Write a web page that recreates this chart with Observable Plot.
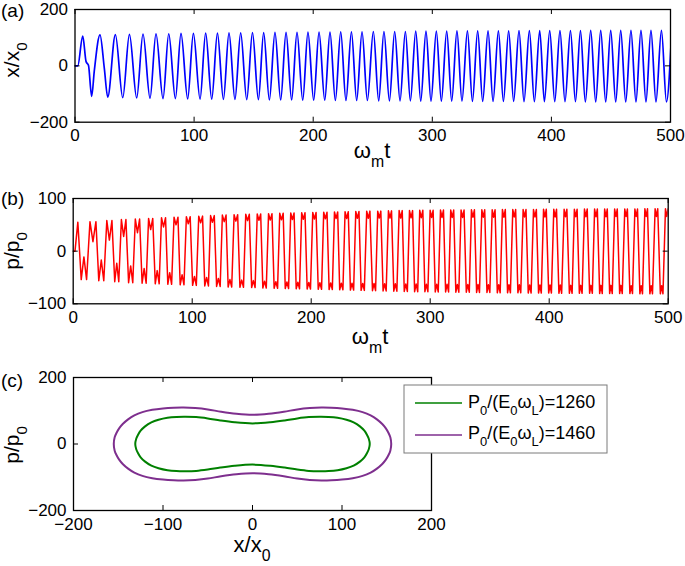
<!DOCTYPE html>
<html><head><meta charset="utf-8">
<script src="https://cdn.jsdelivr.net/npm/d3@7"></script>
<script src="https://cdn.jsdelivr.net/npm/@observablehq/plot@0.6"></script>
<style>
body{margin:0;background:#fff;}
#wrap{position:relative;width:685px;height:566px;background:#fff;}
#wrap svg{position:absolute;left:0;overflow:visible;}
</style></head><body><div id="wrap"></div>
<script>
// ---------- tick values & labels ----------
const panelLabels = ["(a)", "(b)", "(c)"];
const timeTicks = [0, 100, 200, 300, 400, 500];
const xTicksA = [-200, 0, 200];
const pTicksB = [-100, 0, 100];
const phaseXTicks = [-200, -100, 0, 100, 200];
const phaseYTicks = [-200, 0, 200];
const legendLabels = ["1260", "1460"];

// ---------- panel (a): x/x0 vs ωm t (extrema) ----------
const aPeakT = [6.5,21.0,33.9,45.7,57.1,68.0,78.7,89.0,99.4,109.7,119.6,129.3,139.1,149.0,158.4,167.9,177.2,186.4,195.6,204.9,214.1,223.1,232.1,241.0,250.5,259.4,268.4,277.4,286.1,294.7,303.4,312.1,320.7,329.5,338.1,346.8,355.5,364.1,372.8,381.5,390.2,398.6,407.2,416.0,424.4,433.0,441.4,449.8,458.2,466.8,475.2,483.6,492.4];
const aPeakX = [106,110,111,112,113,114,114,115,115,116,116,117,117,118,118,119,119,119,120,120,120,121,121,121,122,122,122,122,123,123,123,123,124,124,124,124,124,124,125,125,125,125,125,125,125,126,126,126,126,126,126,126,126];
const aTroughT = [14.0,27.5,40.1,51.8,63.0,73.9,84.3,94.6,105.0,114.8,124.6,134.3,144.2,154.0,163.2,172.7,181.9,191.2,200.4,209.7,218.6,227.5,236.5,245.5,255.0,264.0,272.9,281.6,290.3,298.9,307.6,316.3,324.9,333.7,342.3,351.0,359.7,368.3,377.0,385.7,394.1,402.8,411.4,420.2,428.5,437.2,445.6,454.0,462.4,471.0,479.4,487.8,496.6];
const aTroughX = [-108,-111,-113,-114,-115,-116,-116,-117,-118,-118,-119,-119,-120,-120,-121,-121,-121,-122,-122,-122,-123,-123,-123,-123,-124,-124,-124,-124,-125,-125,-125,-125,-125,-126,-126,-126,-126,-126,-127,-127,-127,-127,-127,-127,-128,-128,-128,-128,-128,-128,-128,-128,-128];
const aExtraT = [0, 2.3, 9.3, 11.3, 16.2, 24.6, 501.0];
const aExtraX = [0, 0, 15, 2, -18, -8, 126];

// ---------- panel (b): p/p0 vs ωm t (M / W shaped extrema) ----------
const bStartT = [0, 1.5, 3.9];
const bStartP = [0, 0, 55];
const bBottomCenter = [9.0,23.6,36.6,48.3,59.6,70.6,81.1,91.5,101.9,112.1,122.0,131.7,141.6,151.4,160.8,170.3,179.6,188.8,198.0,207.3,216.4,225.3,234.3,243.3,252.8,261.7,270.7,279.5,288.2,296.8,305.5,314.2,322.8,331.6,340.2,348.9,357.6,366.2,374.9,383.6,392.2,400.7,409.3,418.1,426.5,435.1,443.5,451.9,460.3,468.9,477.3,485.7,494.5];
const bBottomPeak = [-54,-56,-58,-60,-61,-62,-63,-64,-65,-66,-67,-68,-68.5,-69,-70,-70.5,-71,-71.5,-72,-72.5,-73,-73.5,-74,-74.5,-75,-75.5,-76,-76.5,-77,-77,-77.5,-77.5,-78,-78,-78.5,-78.5,-79,-79,-79,-79.5,-79.5,-79.5,-80,-80,-80,-80,-80.5,-80.5,-80.5,-80.5,-81,-81,-81];
const bBottomDip = [-11,-17,-23,-28,-33,-37,-41,-45,-48,-50,-52,-54,-55,-56,-57,-58,-58.5,-59,-59.5,-60,-60.5,-61,-61,-61.5,-61.5,-62,-62,-62.5,-62.5,-63,-63,-63,-63.5,-63.5,-63.5,-64,-64,-64,-64,-64.5,-64.5,-64.5,-64.5,-65,-65,-65,-65,-65,-65,-65.5,-65.5,-65.5,-65.5];
const bBottomHalfWidth = [2.25,2.1,1.7,1.75,1.7,1.65,1.6,1.6,1.55,1.55,1.5,1.5,1.5,1.45,1.45,1.45,1.4,1.4,1.4,1.4,1.35,1.35,1.35,1.35,1.3,1.3,1.3,1.3,1.3,1.25,1.25,1.25,1.25,1.25,1.2,1.2,1.2,1.2,1.2,1.2,1.15,1.15,1.15,1.15,1.15,1.15,1.1,1.1,1.1,1.1,1.1,1.1,1.1];
const bTopCenter = [16.6,30.4,42.4,54.0,65.1,75.9,86.4,96.7,107.1,117.0,126.9,136.7,146.5,156.1,165.6,175.0,184.2,193.4,202.7,211.9,220.9,229.8,238.8,248.0,257.2,266.2,275.2,283.9,292.5,301.2,309.9,318.5,327.2,335.9,344.6,353.3,361.9,370.6,379.3,388.0,396.4,405.0,413.7,422.3,430.8,439.3,447.7,456.1,464.6,473.1,481.5,490.1,498.8];
const bTopPeak = [56,58,60,61,62,63.5,64.5,65.5,66.5,67.5,68.5,69,70,70.5,71,72,72.5,73,73.5,74,74.5,75,75.5,76,76,76.5,77,77,77.5,77.5,78,78,78,78.5,78.5,78.5,79,79,79,79,79.5,79.5,79.5,79.5,80,80,80,80,80,80,80.5,80.5,80.5];
const bTopDip = [18,21,28,35,41,46,50,52,54,55,56,57,58,58.5,59,59.5,60,60.5,61,61.5,62,62,62.5,62.5,63,63,63,63.5,63.5,64,64,64,64,64.5,64.5,64.5,64.5,65,65,65,65,65,65.5,65.5,65.5,65.5,65.5,66,66,66,66,66,66];
const bTopHalfWidth = [2.5,2.15,1.9,1.8,1.75,1.7,1.65,1.6,1.6,1.55,1.55,1.5,1.5,1.45,1.45,1.45,1.4,1.4,1.4,1.4,1.35,1.35,1.35,1.35,1.3,1.3,1.3,1.3,1.3,1.25,1.25,1.25,1.25,1.25,1.2,1.2,1.2,1.2,1.2,1.2,1.15,1.15,1.15,1.15,1.15,1.15,1.1,1.1,1.1,1.1,1.1,1.1,1.1];

// ---------- panel (c): phase portraits (upper halves, symmetric) ----------
const greenX = [-131,-130,-128,-125,-120,-113,-105,-95,-85,-75,-63,-50,-36,-20,0,20,36,50,63,75,85,95,105,113,120,125,128,130,131];
const greenP = [0,15,27,40,53,65,73,79,81.5,82,81,77,71,65.5,62,65.5,71,77,81,82,81.5,79,73,65,53,40,27,15,0];
const purpleX = [-155,-154,-152,-149,-145,-139,-132,-123,-112,-100,-88,-77,-64,-50,-35,-18,0,18,35,50,64,77,88,100,112,123,132,139,145,149,152,154,155];
const purpleP = [0,20,33,47,60,74,86,96,103,107,109,109.5,108,104,97,91,88,91,97,104,108,109.5,109,107,103,96,86,74,60,47,33,20,0];

// ---------- helpers ----------
const FONT = "Liberation Sans, Arial, Helvetica, sans-serif";
const wrap = document.getElementById("wrap");

function panel({top, height, ml, mr, mt, mb, xDomain, yDomain, xTicks, yTicks, marks}) {
  const fw = 685 - ml - mr, fh = height - mt - mb, tk = 5;
  const svg = Plot.plot({
    width: 685, height,
    marginLeft: ml, marginRight: mr, marginTop: mt, marginBottom: mb,
    style: {fontFamily: FONT, fontSize: "17px", color: "black", background: "transparent", overflow: "visible"},
    x: {domain: xDomain, label: null},
    y: {domain: yDomain, label: null},
    marks: [
      ...marks,
      Plot.ruleX(xTicks, {insetTop: fh - tk, stroke: "black"}),
      Plot.ruleX(xTicks, {insetBottom: fh - tk, stroke: "black"}),
      Plot.ruleY(yTicks, {insetRight: fw - tk, stroke: "black"}),
      Plot.ruleY(yTicks, {insetLeft: fw - tk, stroke: "black"}),
      Plot.axisX(xTicks, {tickSize: 0, tickPadding: 7, label: null, fontSize: 17}),
      Plot.axisY(yTicks, {tickSize: 0, tickPadding: 7, label: null, fontSize: 17}),
      Plot.frame({stroke: "black", strokeWidth: 1.3})
    ]
  });
  svg.style.top = top + "px";
  wrap.appendChild(svg);
  return svg;
}

function addText(svg, x, y, parts, size, opts = {}) {
  const t = d3.select(svg).append("text")
    .attr("transform", `translate(${x},${y})` + (opts.rotate ? " rotate(-90)" : ""))
    .attr("text-anchor", opts.anchor || "middle")
    .attr("font-family", FONT)
    .attr("font-size", size)
    .attr("fill", "black");
  parts.forEach(([s, sub], i) => {
    const ts = t.append("tspan").text(s);
    if (sub) ts.attr("font-size", size * 0.72).attr("dy", size * 0.4);
    else if (i > 0 && parts[i - 1][1]) ts.attr("dy", -size * 0.4);
  });
}

// ---------- build tables ----------
const aData = [];
aPeakT.forEach((t, i) => aData.push({t, v: aPeakX[i]}));
aTroughT.forEach((t, i) => aData.push({t, v: aTroughX[i]}));
aExtraT.forEach((t, i) => aData.push({t, v: aExtraX[i]}));
aData.sort((a, b) => a.t - b.t);

const bHalf = [];
bBottomCenter.forEach((c, i) => bHalf.push({c, peak: bBottomPeak[i], dip: bBottomDip[i], w: bBottomHalfWidth[i]}));
bTopCenter.forEach((c, i) => bHalf.push({c, peak: bTopPeak[i], dip: bTopDip[i], w: bTopHalfWidth[i]}));
bHalf.sort((a, b) => a.c - b.c);
const bData = bStartT.map((t, i) => ({t, v: bStartP[i]}));
bHalf.forEach(h => bData.push({t: h.c - h.w, v: h.peak}, {t: h.c, v: h.dip}, {t: h.c + h.w, v: h.peak}));

function loop(xs, ps) {
  const up = xs.map((x, i) => ({x, p: ps[i]}));
  const down = xs.slice(1, -1).map((x, i) => ({x, p: -ps[i + 1]})).reverse();
  return up.concat(down);
}
const greenLoop = loop(greenX, greenP);
const purpleLoop = loop(purpleX, purpleP);

// ---------- panel (a) ----------
const svgA = panel({
  top: 0, height: 170, ml: 74.5, mr: 15, mt: 9, mb: 48.3,
  xDomain: [0, 500], yDomain: [-200, 200], xTicks: timeTicks, yTicks: xTicksA,
  marks: [Plot.line(aData, {x: "t", y: "v", stroke: "#0000ff", strokeWidth: 1.7, curve: "monotone-x", clip: true, strokeLinejoin: "round"})]
});
addText(svgA, 372, 158, [["ω"], ["m", 1], ["t"]], 22);
addText(svgA, 19, 60, [["x/x"], ["0", 1]], 21, {rotate: true});
addText(svgA, 1, 17, [[panelLabels[0]]], 19, {anchor: "start"});

// ---------- panel (b) ----------
const svgB = panel({
  top: 175, height: 175, ml: 72.7, mr: 17.3, mt: 23, mb: 46.7,
  xDomain: [0, 500], yDomain: [-100, 100], xTicks: timeTicks, yTicks: pTicksB,
  marks: [Plot.line(bData, {x: "t", y: "v", stroke: "#ff0000", strokeWidth: 1.5, clip: true, strokeLinejoin: "round"})]
});
addText(svgB, 370, 169, [["ω"], ["m", 1], ["t"]], 22);
addText(svgB, 19, 76, [["p/p"], ["0", 1]], 21, {rotate: true});
addText(svgB, 1, 30, [[panelLabels[1]]], 19, {anchor: "start"});

// ---------- panel (c) ----------
const svgC = panel({
  top: 355, height: 211, ml: 73, mr: 254, mt: 22, mb: 56,
  xDomain: [-200, 200], yDomain: [-200, 200], xTicks: phaseXTicks, yTicks: phaseYTicks,
  marks: [
    Plot.line(greenLoop, {x: "x", y: "p", stroke: "#008000", strokeWidth: 2, curve: "catmull-rom-closed"}),
    Plot.line(purpleLoop, {x: "x", y: "p", stroke: "#7e2f8e", strokeWidth: 2, curve: "catmull-rom-closed"})
  ]
});
addText(svgC, 252, 197, [["x/x"], ["0", 1]], 22);
addText(svgC, 19, 90, [["p/p"], ["0", 1]], 21, {rotate: true});
addText(svgC, 1, 32, [[panelLabels[2]]], 19, {anchor: "start"});

// legend
const lg = d3.select(svgC).append("g");
lg.append("rect").attr("x", 404).attr("y", 30).attr("width", 203).attr("height", 68)
  .attr("fill", "white").attr("stroke", "#7a7a7a").attr("stroke-width", 1);
[["#008000", 48, 52.5], ["#7e2f8e", 80, 84]].forEach(([c, ly, ty], i) => {
  lg.append("line").attr("x1", 415).attr("x2", 462).attr("y1", ly).attr("y2", ly)
    .attr("stroke", c).attr("stroke-width", 1.5);
  addText(svgC, 468, ty, [["P"], ["0", 1], ["/(E"], ["0", 1], ["ω"], ["L", 1], [")=" + legendLabels[i]]], 18, {anchor: "start"});
});
</script></body></html>
